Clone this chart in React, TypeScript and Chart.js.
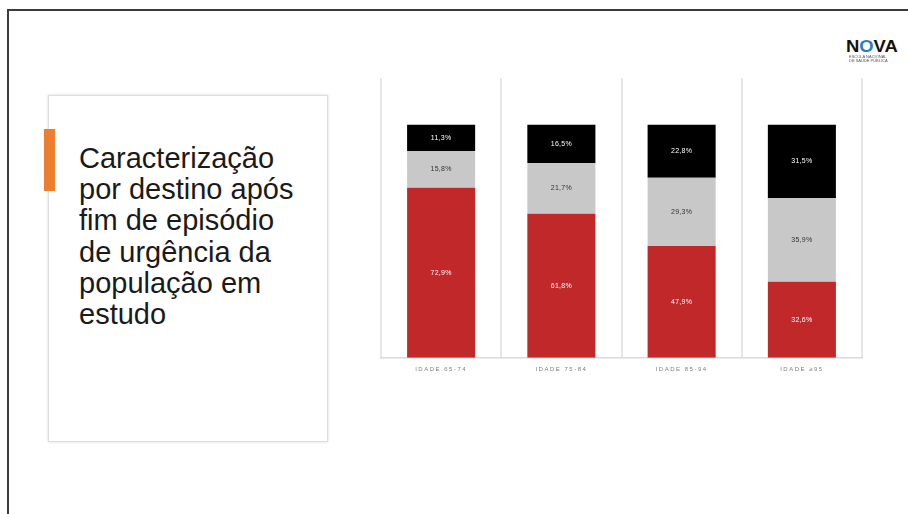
import React, { useEffect, useRef } from "react";
import { Chart, registerables } from "chart.js";

Chart.register(...registerables);

const categories = ["IDADE 65-74", "IDADE 75-84", "IDADE 85-94", "IDADE ≥95"];
const seriesNames = ["Alta", "Internamento", "Outro destino"];
const redValues = [72.9, 61.8, 47.9, 32.6];
const grayValues = [15.8, 21.7, 29.3, 35.9];
const blackValues = [11.3, 16.5, 22.8, 31.5];
const barColors = ["#C0282A", "#C8C8C8", "#000000"];
const labelColors = ["#ffffff", "#333333", "#ffffff"];
const titleLines = [
  "Caracterização",
  "por destino após",
  "fim de episódio",
  "de urgência da",
  "população em",
  "estudo",
];

const fmt = (v: number) => v.toFixed(1).replace(".", ",") + "%";

const labelPlugin = {
  id: "segLabels",
  beforeDraw(chart: any) {
    chart.ctx.letterSpacing = "1.5px";
  },
  afterDatasetsDraw(chart: any) {
    const ctx = chart.ctx;
    ctx.save();
    ctx.letterSpacing = "0.3px";
    ctx.font = "7px 'Liberation Sans', Arial, sans-serif";
    ctx.textAlign = "center";
    ctx.textBaseline = "middle";
    chart.data.datasets.forEach((ds: any, di: number) => {
      const meta = chart.getDatasetMeta(di);
      meta.data.forEach((el: any, i: number) => {
        const cy = (el.y + el.base) / 2;
        ctx.fillStyle = labelColors[di];
        ctx.fillText(fmt(ds.data[i]), el.x, cy);
      });
    });
    ctx.restore();
  },
};

function BarChart() {
  const ref = useRef<HTMLCanvasElement>(null);
  useEffect(() => {
    if (!ref.current) return;
    const values = [redValues, grayValues, blackValues];
    const chart = new Chart(ref.current, {
      type: "bar",
      data: {
        labels: categories,
        datasets: values.map((d, i) => ({
          label: seriesNames[i],
          data: d,
          backgroundColor: barColors[i],
          borderWidth: 0,
          categoryPercentage: 1,
          barPercentage: 0.566,
        })),
      },
      options: {
        animation: false,
        responsive: false,
        layout: { padding: { left: 11, right: 18, top: 18, bottom: 9 } },
        plugins: { legend: { display: false }, tooltip: { enabled: false } },
        scales: {
          x: {
            stacked: true,
            grid: {
              display: true,
              offset: true,
              drawTicks: false,
              color: "#e6e6e6",
              lineWidth: 2,
            },
            border: { display: true, color: "#d9d9d9", width: 1.5 },
            ticks: {
              padding: 8,
              color: "#7f7f7f",
              font: { family: "'Liberation Sans', Arial, sans-serif", size: 6 },
            },
          },
          y: {
            stacked: true,
            display: false,
            min: 0,
            max: 120,
          },
        },
      },
      plugins: [labelPlugin],
    });
    return () => chart.destroy();
  }, []);
  return <canvas ref={ref} width={510} height={330} />;
}

export default function App() {
  return (
    <div
      style={{
        position: "fixed",
        left: 0,
        top: 0,
        width: 908,
        height: 514,
        overflow: "hidden",
        background: "#ffffff",
        fontFamily: "'Liberation Sans', Arial, sans-serif",
      }}
    >
      <div
        style={{
          position: "absolute",
          left: 7,
          top: 9,
          width: 1000,
          height: 600,
          borderTop: "2px solid #3c3c3c",
          borderLeft: "2px solid #3c3c3c",
        }}
      />
      <div
        style={{
          position: "absolute",
          left: 48,
          top: 95,
          width: 280,
          height: 347,
          boxSizing: "border-box",
          border: "1px solid #dedede",
          boxShadow: "0 0 3px rgba(0,0,0,0.15)",
          background: "#fff",
        }}
      />
      <div
        style={{
          position: "absolute",
          left: 44,
          top: 129,
          width: 11,
          height: 62,
          background: "#ED7D31",
        }}
      />
      <div
        style={{
          position: "absolute",
          left: 79,
          top: 143,
          fontSize: 29,
          lineHeight: "31.2px",
          color: "#1a1a1a",
          whiteSpace: "nowrap",
        }}
      >
        {titleLines.map((t, i) => (
          <div key={i}>{t}</div>
        ))}
      </div>
      <div style={{ position: "absolute", left: 370, top: 60 }}>
        <BarChart />
      </div>
      <div
        style={{
          position: "absolute",
          left: 846,
          top: 39,
          fontSize: 16,
          fontWeight: 900,
          letterSpacing: "0px",
          lineHeight: "16px",
          color: "#111",
          transform: "scaleX(1.15)",
          transformOrigin: "left top",
          whiteSpace: "nowrap",
        }}
      >
        N<span style={{ color: "#2c7fb8" }}>O</span>VA
      </div>
      <div
        style={{
          position: "absolute",
          left: 849,
          top: 55,
          fontSize: 8,
          lineHeight: "8px",
          color: "#555",
          transform: "scale(0.5)",
          transformOrigin: "left top",
          whiteSpace: "nowrap",
          width: 100,
        }}
      >
        <div>ESCOLA NACIONAL</div>
        <div>DE SAÚDE PÚBLICA</div>
      </div>
    </div>
  );
}
